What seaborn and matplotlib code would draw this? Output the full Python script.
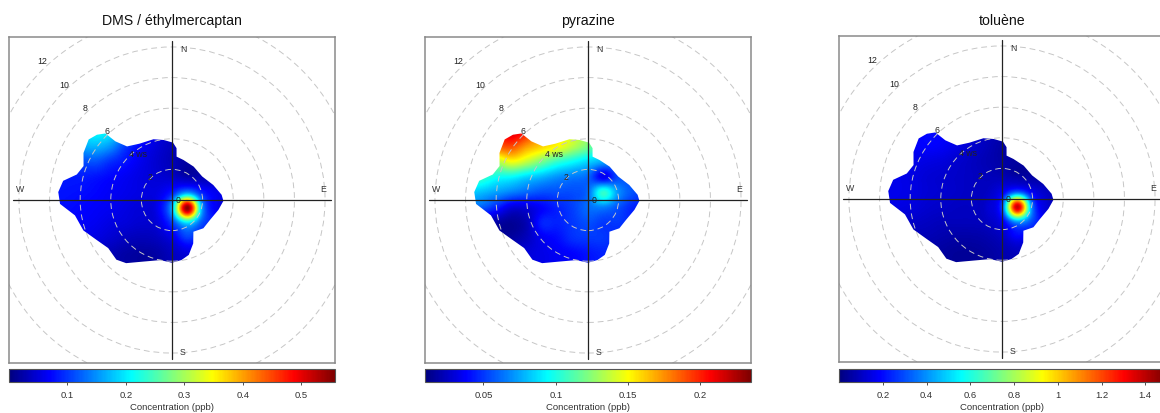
import numpy as np
import matplotlib
matplotlib.use("Agg")
import matplotlib.pyplot as plt
from matplotlib.patches import Polygon, Circle
import seaborn as sns

# ---------------- data ----------------
titles = ["DMS / éthylmercaptan", "pyrazine", "toluène"]

# grid nodes (wind-speed units, x = east, y = north)
x_nodes = [-8, -7, -6, -5, -4, -3, -2, -1, 0, 1, 2, 3, 4]
y_nodes = [5.5, 4.5, 3.5, 2.5, 1.5, 0.5, -0.5, -1.5, -2.5, -3.5, -4.5]

dms_grid = [
    [0.16, 0.17, 0.19, 0.21, 0.20, 0.15, 0.10, 0.06, 0.04, 0.03, 0.03, 0.03, 0.03],
    [0.15, 0.17, 0.19, 0.21, 0.20, 0.15, 0.10, 0.06, 0.04, 0.03, 0.03, 0.03, 0.03],
    [0.13, 0.14, 0.16, 0.17, 0.15, 0.10, 0.07, 0.05, 0.035, 0.025, 0.025, 0.03, 0.03],
    [0.10, 0.11, 0.11, 0.115, 0.095, 0.078, 0.06, 0.045, 0.032, 0.02, 0.025, 0.03, 0.03],
    [0.085, 0.085, 0.085, 0.08, 0.072, 0.064, 0.055, 0.048, 0.042, 0.028, 0.028, 0.03, 0.03],
    [0.08, 0.08, 0.077, 0.072, 0.066, 0.06, 0.055, 0.055, 0.085, 0.15, 0.085, 0.06, 0.055],
    [0.076, 0.076, 0.072, 0.068, 0.063, 0.055, 0.05, 0.06, 0.17, 0.55, 0.15, 0.06, 0.055],
    [0.07, 0.07, 0.068, 0.063, 0.055, 0.05, 0.045, 0.05, 0.10, 0.19, 0.11, 0.075, 0.065],
    [0.06, 0.06, 0.058, 0.054, 0.045, 0.036, 0.032, 0.036, 0.055, 0.10, 0.07, 0.06, 0.06],
    [0.045, 0.045, 0.04, 0.036, 0.03, 0.022, 0.018, 0.022, 0.036, 0.05, 0.05, 0.05, 0.05],
    [0.045, 0.045, 0.04, 0.036, 0.03, 0.022, 0.018, 0.022, 0.036, 0.05, 0.05, 0.05, 0.05],
]

pyrazine_grid = [
    [0.18, 0.19, 0.20, 0.215, 0.20, 0.16, 0.15, 0.14, 0.125, 0.11, 0.10, 0.10, 0.10],
    [0.18, 0.19, 0.20, 0.215, 0.20, 0.16, 0.15, 0.14, 0.125, 0.11, 0.10, 0.10, 0.10],
    [0.17, 0.18, 0.185, 0.19, 0.172, 0.16, 0.15, 0.135, 0.12, 0.10, 0.09, 0.09, 0.09],
    [0.13, 0.13, 0.133, 0.148, 0.137, 0.12, 0.105, 0.095, 0.085, 0.075, 0.065, 0.06, 0.06],
    [0.108, 0.108, 0.097, 0.094, 0.085, 0.078, 0.07, 0.065, 0.06, 0.035, 0.055, 0.055, 0.055],
    [0.085, 0.08, 0.073, 0.066, 0.06, 0.055, 0.055, 0.055, 0.062, 0.105, 0.07, 0.055, 0.05],
    [0.06, 0.058, 0.045, 0.03, 0.03, 0.038, 0.045, 0.052, 0.062, 0.065, 0.055, 0.045, 0.045],
    [0.02, 0.02, 0.018, 0.015, 0.022, 0.045, 0.045, 0.05, 0.055, 0.05, 0.05, 0.045, 0.045],
    [0.02, 0.02, 0.018, 0.018, 0.024, 0.035, 0.04, 0.048, 0.05, 0.05, 0.045, 0.045, 0.045],
    [0.03, 0.03, 0.03, 0.03, 0.03, 0.033, 0.036, 0.038, 0.042, 0.045, 0.045, 0.045, 0.045],
    [0.03, 0.03, 0.03, 0.03, 0.03, 0.033, 0.036, 0.038, 0.042, 0.045, 0.045, 0.045, 0.045],
]

toluene_grid = [
    [0.14, 0.15, 0.17, 0.19, 0.19, 0.16, 0.13, 0.10, 0.08, 0.06, 0.06, 0.06, 0.06],
    [0.14, 0.15, 0.17, 0.19, 0.19, 0.16, 0.13, 0.10, 0.08, 0.06, 0.06, 0.06, 0.06],
    [0.13, 0.15, 0.17, 0.19, 0.18, 0.15, 0.12, 0.09, 0.06, 0.05, 0.05, 0.05, 0.05],
    [0.15, 0.16, 0.16, 0.15, 0.14, 0.12, 0.10, 0.08, 0.06, 0.05, 0.05, 0.05, 0.05],
    [0.16, 0.16, 0.15, 0.13, 0.12, 0.11, 0.10, 0.09, 0.08, 0.06, 0.05, 0.05, 0.05],
    [0.16, 0.16, 0.15, 0.13, 0.12, 0.11, 0.10, 0.10, 0.16, 0.30, 0.16, 0.10, 0.08],
    [0.15, 0.15, 0.14, 0.12, 0.11, 0.10, 0.10, 0.12, 0.30, 1.38, 0.35, 0.12, 0.10],
    [0.12, 0.12, 0.11, 0.10, 0.09, 0.09, 0.09, 0.10, 0.16, 0.40, 0.28, 0.12, 0.10],
    [0.09, 0.09, 0.08, 0.08, 0.07, 0.06, 0.06, 0.07, 0.10, 0.18, 0.13, 0.10, 0.08],
    [0.06, 0.06, 0.06, 0.05, 0.05, 0.04, 0.04, 0.05, 0.07, 0.09, 0.09, 0.09, 0.09],
    [0.06, 0.06, 0.06, 0.05, 0.05, 0.04, 0.04, 0.05, 0.07, 0.09, 0.09, 0.09, 0.09],
]

# outer limit of the measured data (wind direction in degrees, wind speed)
outline_wd = [1, 5, 6, 16, 33, 52, 70, 84, 91, 102, 118, 132, 146, 154, 163, 171,
              180, 191, 205, 216, 223, 233, 242, 251, 261, 268, 274, 280, 285, 291,
              298, 306, 311, 315, 316, 320, 330, 343, 352]
outline_ws = [3.75, 3.4, 2.85, 2.72, 2.6, 2.5, 2.87, 3.26, 3.36, 3.1, 2.8, 2.76, 2.5,
              3.16, 3.75, 3.97, 4.1, 4.0, 4.44, 5.1, 5.33, 5.22, 5.57, 6.12, 6.42,
              7.32, 7.45, 7.22, 6.44, 6.19, 6.55, 6.73, 6.5, 6.15, 5.33, 4.57, 4.25,
              4.15, 3.96]

ring_ws = [2, 4, 6, 8, 10, 12]
ring_label_ws = [0, 2, 4, 6, 8, 10, 12]
ring_labels = ["0", "2", "4 ws", "6", "8", "10", "12"]
compass_labels = ["N", "E", "S", "W"]

value_ranges = [(0.0, 0.558), (0.0096, 0.235), (0.0, 1.49)]
cbar_ticks = [[0.1, 0.2, 0.3, 0.4, 0.5],
              [0.05, 0.1, 0.15, 0.2],
              [0.2, 0.4, 0.6, 0.8, 1.0, 1.2, 1.4]]
cbar_ticklabels = [["0.1", "0.2", "0.3", "0.4", "0.5"],
                   ["0.05", "0.1", "0.15", "0.2"],
                   ["0.2", "0.4", "0.6", "0.8", "1", "1.2", "1.4"]]
cbar_label = "Concentration (ppb)"

jet_colors = ["#00007F", "#0000FF", "#007FFF", "#00FFFF", "#7FFF7F",
              "#FFFF00", "#FF7F00", "#FF0000", "#7F0000"]

# ---------------- style / layout ----------------
sns.set_theme(style="white")
plt.rcParams["font.family"] = ["Liberation Sans", "DejaVu Sans"]

W, H = 1160, 414
fig = plt.figure(figsize=(W / 100, H / 100), dpi=100)
cmap = sns.blend_palette(jet_colors, as_cmap=True)

panel_left_px = [9, 425, 839]
panel_top_px = [38, 38, 37]
box_px = 326
lim = 10.65
axis_len = 10.4
compass_pos = [(0.72, 9.9), (9.9, 0.72), (0.72, -9.9), (-9.9, 0.72)]

grids = [dms_grid, pyrazine_grid, toluene_grid]
dx = 1.0
extent = (min(x_nodes) - dx / 2, max(x_nodes) + dx / 2,
          min(y_nodes) - dx / 2, max(y_nodes) + dx / 2)

wd_rad = np.deg2rad(outline_wd)
ox = np.array(outline_ws) * np.sin(wd_rad)
oy = np.array(outline_ws) * np.cos(wd_rad)

for i in range(3):
    lpx, tpx = panel_left_px[i], panel_top_px[i]
    ax = fig.add_axes([lpx / W, (H - tpx - box_px) / H, box_px / W, box_px / H])
    vmin, vmax = value_ranges[i]
    im = ax.imshow(np.array(grids[i]), cmap=cmap, vmin=vmin, vmax=vmax,
                   extent=extent, origin="upper", interpolation="catrom",
                   zorder=1)
    clip = Polygon(np.column_stack([ox, oy]), closed=True, transform=ax.transData,
                   facecolor="none", edgecolor="none")
    ax.add_patch(clip)
    im.set_clip_path(clip)

    for r in ring_ws:
        ax.add_patch(Circle((0, 0), r, fill=False, edgecolor="#C6C6C6", lw=0.7,
                            linestyle=(0, (6, 4)), zorder=2))
    ax.plot([-axis_len, axis_len], [0, 0], color="#222222", lw=0.9, zorder=3)
    ax.plot([0, 0], [-axis_len, axis_len], color="#222222", lw=0.9, zorder=3)

    for r, lab in zip(ring_label_ws, ring_labels):
        if r == 0:
            ax.text(0.42, 0.0, lab, fontsize=6.3, color="#222222", ha="center",
                    va="center", zorder=4)
        elif lab.endswith("ws"):
            ax.text(-0.707 * r, 0.707 * r + 0.2, lab, fontsize=6.3, color="#222222",
                    ha="left", va="center", zorder=4)
        else:
            ax.text(-0.707 * r, 0.707 * r + 0.05 * r, lab, fontsize=6.3,
                    color="#222222", ha="center", va="center", zorder=4)
    for (cx, cy), lab in zip(compass_pos, compass_labels):
        ax.text(cx, cy, lab, fontsize=6.3, color="#333333", ha="center",
                va="center", zorder=4)

    ax.set_xlim(-lim, lim)
    ax.set_ylim(-lim, lim)
    ax.set_xticks([])
    ax.set_yticks([])
    for sp in ax.spines.values():
        sp.set_color("#8a8a8a")
        sp.set_linewidth(1.1)

    fig.text((lpx + box_px / 2) / W, 1 - 25 / H, titles[i], fontsize=10.2,
             color="#111111", ha="center", va="baseline")

    cax = fig.add_axes([lpx / W, (H - 383) / H, box_px / W, 13 / H])
    cb = fig.colorbar(im, cax=cax, orientation="horizontal")
    cb.set_ticks(cbar_ticks[i])
    cb.set_ticklabels(cbar_ticklabels[i])
    cb.outline.set_edgecolor("#555555")
    cb.outline.set_linewidth(0.8)
    cax.tick_params(axis="x", direction="out", length=2.2, width=0.6,
                    colors="#333333", labelsize=6.8, pad=3.5, bottom=True)
    fig.text((lpx + box_px / 2) / W, 1 - 408 / H, cbar_label, fontsize=6.8,
             color="#333333", ha="center", va="center")

fig.savefig("out.png", dpi=100)
